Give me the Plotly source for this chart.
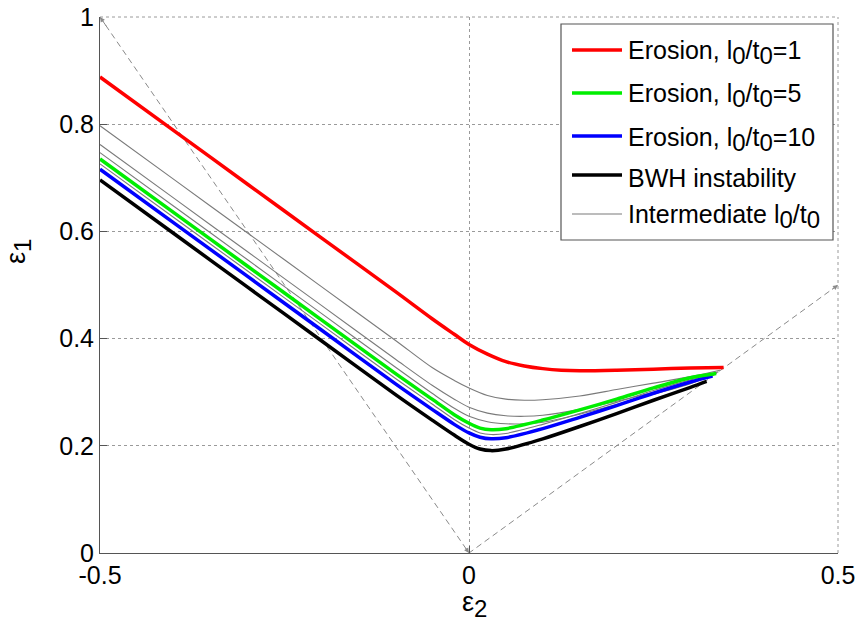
import plotly.graph_objects as go

# ---- data ----
X_RED = [-0.5, -0.4, -0.3, -0.2, -0.1, -0.05, -0.02, 0, 0.025, 0.05, 0.075, 0.1, 0.125, 0.15, 0.2, 0.25, 0.3, 0.345]
Y_RED = [0.888, 0.788, 0.688, 0.588, 0.488, 0.437, 0.408, 0.389, 0.371, 0.357, 0.349, 0.344, 0.341, 0.34, 0.341, 0.343, 0.345, 0.346]

X_BLACK = [-0.5, -0.4, -0.3, -0.2, -0.1, -0.05, -0.02, 0, 0.015, 0.03, 0.05, 0.1, 0.15, 0.2, 0.25, 0.3, 0.322]
Y_BLACK = [0.696, 0.596, 0.496, 0.396, 0.296, 0.248, 0.22, 0.203, 0.194, 0.191, 0.194, 0.213, 0.236, 0.26, 0.285, 0.309, 0.32]

X_BLUE = [-0.5, -0.4, -0.3, -0.2, -0.1, -0.05, -0.02, 0, 0.015, 0.03, 0.05, 0.1, 0.15, 0.2, 0.25, 0.3, 0.33]
Y_BLUE = [0.716, 0.616, 0.516, 0.416, 0.316, 0.268, 0.24, 0.224, 0.216, 0.213, 0.215, 0.232, 0.253, 0.275, 0.298, 0.319, 0.33]

X_GREEN = [-0.5, -0.4, -0.3, -0.2, -0.1, -0.05, -0.02, 0, 0.015, 0.03, 0.05, 0.1, 0.15, 0.2, 0.25, 0.3, 0.335]
Y_GREEN = [0.735, 0.635, 0.535, 0.435, 0.335, 0.287, 0.258, 0.242, 0.233, 0.23, 0.232, 0.248, 0.267, 0.287, 0.308, 0.327, 0.335]

X_GRAY = [
    [-0.5, -0.4, -0.3, -0.2, -0.1, -0.05, -0.02, 0, 0.025, 0.05, 0.075, 0.1, 0.15, 0.2, 0.25, 0.3, 0.34],
    [-0.5, -0.4, -0.3, -0.2, -0.1, -0.05, -0.02, 0, 0.025, 0.05, 0.075, 0.1, 0.15, 0.2, 0.25, 0.3, 0.338],
    [-0.5, -0.4, -0.3, -0.2, -0.1, -0.05, -0.02, 0, 0.025, 0.05, 0.075, 0.1, 0.15, 0.2, 0.25, 0.3, 0.336],
    [-0.5, -0.4, -0.3, -0.2, -0.1, -0.05, -0.02, 0, 0.015, 0.03, 0.05, 0.1, 0.15, 0.2, 0.25, 0.3, 0.333],
]
Y_GRAY = [
    [0.797, 0.697, 0.597, 0.497, 0.397, 0.346, 0.322, 0.308, 0.294, 0.287, 0.285, 0.286, 0.293, 0.305, 0.317, 0.329, 0.341],
    [0.762, 0.662, 0.562, 0.462, 0.362, 0.313, 0.287, 0.272, 0.261, 0.256, 0.255, 0.257, 0.268, 0.283, 0.3, 0.318, 0.338],
    [0.747, 0.647, 0.547, 0.447, 0.347, 0.298, 0.27, 0.255, 0.245, 0.241, 0.241, 0.244, 0.259, 0.277, 0.296, 0.316, 0.336],
    [0.726, 0.626, 0.526, 0.426, 0.326, 0.278, 0.249, 0.233, 0.224, 0.221, 0.223, 0.24, 0.26, 0.281, 0.303, 0.323, 0.333],
]

DASH_X = [-0.5, 0, 0.5]
DASH_Y = [1.0, 0, 0.5]

X_TICKS = [-0.5, 0, 0.5]
X_TICKTEXT = ["-0.5", "0", "0.5"]
Y_TICKS = [0, 0.2, 0.4, 0.6, 0.8, 1]
Y_TICKTEXT = ["0", "0.2", "0.4", "0.6", "0.8", "1"]

LEGEND_NAMES = ["Erosion, l{s}/t{s}=1", "Erosion, l{s}/t{s}=5", "Erosion, l{s}/t{s}=10",
                "BWH instability", "Intermediate l{s}/t{s}"]
LEGEND_COLORS = ["#ff0000", "#00ee00", "#0000ff", "#000000", "#7a7a7a"]
LEGEND_WIDTHS = [3.5, 3.5, 3.5, 3.5, 1.1]

FONT = "Arial, Liberation Sans, sans-serif"
TICK_SIZE = 25
LEG_SIZE = 25
TITLE_SIZE = 27

# plot-area pixel geometry (for the hand-drawn legend box and axis titles)
PL, PR, PT, PB = 100, 838, 17, 553


def px2paper(px, py):
    return (px - PL) / (PR - PL), (PB - py) / (PB - PT)


def sub(t, size):
    return f"<sub><span style='font-size:{size}px'>{t}</span></sub>"


fig = go.Figure()

# dashed guide lines
fig.add_trace(go.Scatter(x=DASH_X, y=DASH_Y, mode="lines",
                         line=dict(color="#8a8a8a", width=1, dash="6px,4px"),
                         showlegend=False, hoverinfo="skip"))

SM = 0.9
for gx, gy in zip(X_GRAY, Y_GRAY):
    fig.add_trace(go.Scatter(x=gx, y=gy, mode="lines",
                             line=dict(color="#7a7a7a", width=1.1, shape="spline", smoothing=SM),
                             showlegend=False))
for xs, ys, c in [(X_BLACK, Y_BLACK, "#000000"), (X_BLUE, Y_BLUE, "#0000ff"),
                  (X_GREEN, Y_GREEN, "#00ee00"), (X_RED, Y_RED, "#ff0000")]:
    fig.add_trace(go.Scatter(x=xs, y=ys, mode="lines",
                             line=dict(color=c, width=3.5, shape="spline", smoothing=SM),
                             showlegend=False))

# small arrow heads at the ends of the dashed guides
arrows = [(-0.5, 1.0, -0.49, 0.98), (0, 0, -0.006, 0.012), (0.5, 0.5, 0.49, 0.49)]
for hx, hy, tx, ty in arrows:
    fig.add_annotation(x=hx, y=hy, ax=tx, ay=ty, xref="x", yref="y", axref="x", ayref="y",
                       showarrow=True, arrowhead=2, arrowsize=1, arrowwidth=1,
                       arrowcolor="#8a8a8a", text="")

shapes = []
# dotted grid lines on the open top and right edges
shapes.append(dict(type="line", xref="paper", yref="paper", x0=0, x1=1, y0=1, y1=1,
                   line=dict(color="#9a9a9a", width=1, dash="dot")))
shapes.append(dict(type="line", xref="paper", yref="paper", x0=1, x1=1, y0=0, y1=1,
                   line=dict(color="#9a9a9a", width=1, dash="dot")))

# legend box
bx0, by0 = px2paper(561, 240)
bx1, by1 = px2paper(833, 24)
shapes.append(dict(type="rect", xref="paper", yref="paper", x0=bx0, x1=bx1, y0=by0, y1=by1,
                   line=dict(color="#555555", width=1.2), fillcolor="white", layer="above"))
LEG_Y = [50, 93, 136, 175, 214]
for name, c, w, ly in zip(LEGEND_NAMES, LEGEND_COLORS, LEGEND_WIDTHS, LEG_Y):
    lx0, lyp = px2paper(572, ly)
    lx1, _ = px2paper(622, ly)
    shapes.append(dict(type="line", xref="paper", yref="paper", x0=lx0, x1=lx1, y0=lyp, y1=lyp,
                       line=dict(color=c, width=w), layer="above"))
    tx, ty = px2paper(626, ly + 3)
    fig.add_annotation(x=tx, y=ty, xref="paper", yref="paper", xanchor="left", yanchor="middle",
                       showarrow=False, text=name.replace("{s}", sub("0", LEG_SIZE - 1)),
                       font=dict(family=FONT, size=LEG_SIZE, color="black"))

# axis titles
ex, ey = px2paper(474, 604)
fig.add_annotation(x=ex, y=ey, xref="paper", yref="paper", xanchor="center", yanchor="middle",
                   showarrow=False, text="\u03b5" + sub("2", TITLE_SIZE - 3),
                   font=dict(family=FONT, size=TITLE_SIZE, color="black"))
ex, ey = px2paper(18, 252)
fig.add_annotation(x=ex, y=ey, xref="paper", yref="paper", xanchor="center", yanchor="middle",
                   showarrow=False, textangle=-90, text="\u03b5" + sub("1", TITLE_SIZE - 3),
                   font=dict(family=FONT, size=TITLE_SIZE, color="black"))

fig.update_layout(
    width=861, height=633,
    margin=dict(l=PL, r=861 - PR, t=PT, b=633 - PB, autoexpand=False),
    paper_bgcolor="white", plot_bgcolor="white",
    font=dict(family=FONT, size=TICK_SIZE, color="black"),
    showlegend=False,
    shapes=shapes,
    xaxis=dict(range=[-0.5, 0.5], tickvals=X_TICKS, ticktext=X_TICKTEXT, automargin=False,
               showgrid=True, gridcolor="#9a9a9a", griddash="dot", gridwidth=1,
               zeroline=False, showline=True, linecolor="#555555", linewidth=1,
               ticks="inside", ticklen=7, tickcolor="#555555",
               tickfont=dict(size=TICK_SIZE)),
    yaxis=dict(range=[0, 1], tickvals=Y_TICKS, ticktext=Y_TICKTEXT, automargin=False,
               showgrid=True, gridcolor="#9a9a9a", griddash="dot", gridwidth=1,
               zeroline=False, showline=True, linecolor="#555555", linewidth=1,
               ticks="inside", ticklen=7, tickcolor="#555555",
               tickfont=dict(size=TICK_SIZE)),
)

fig.write_html("out.html")
